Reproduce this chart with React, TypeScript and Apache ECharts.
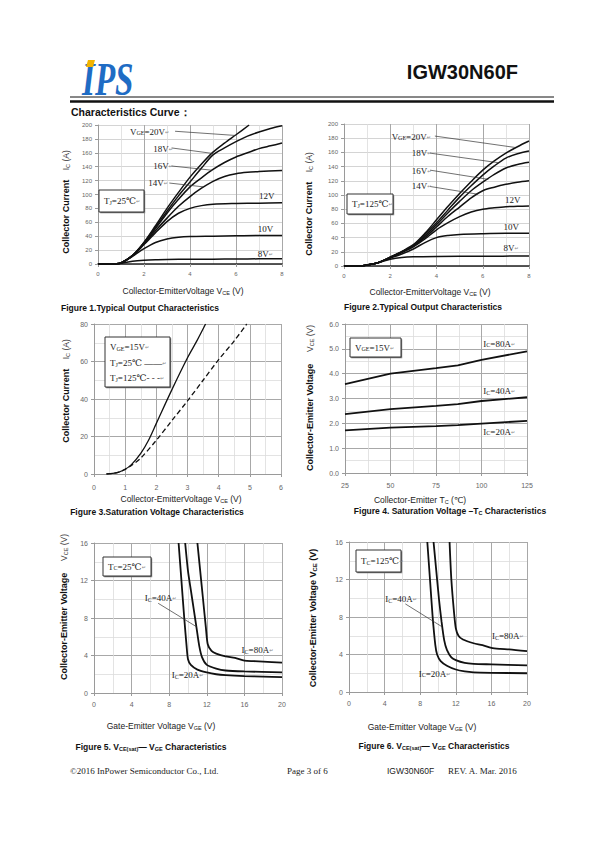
import React, { useEffect, useRef } from "react";
import * as echarts from "echarts";

// ---------- Figure 1: Typical output, Tj = 25°C  [VCE (V), IC (A)]
const f1XTicks = [0, 2, 4, 6, 8];
const f1YTicks = [0, 20, 40, 60, 80, 100, 120, 140, 160, 180, 200];
const f1_vge8 = [[0, 0], [0.8, 0], [1, 1], [1.5, 4], [2, 5.5], [2.5, 6.2], [3, 6.5], [4, 6.8], [5, 7], [6, 7.2], [7, 7.4], [8, 7.5]];
const f1_vge10 = [[0, 0], [0.8, 0.3], [1, 1.5], [1.5, 11], [2, 22], [2.5, 31], [3, 36], [3.5, 38.5], [4, 39.5], [5, 40], [6, 40.5], [7, 41], [8, 41]];
const f1_vge12 = [[0, 0], [0.8, 0.3], [1, 1.5], [1.5, 11.5], [2, 28], [2.5, 45], [3, 61], [3.5, 73], [4, 80], [4.5, 84], [5, 86], [6, 87], [7, 87.5], [8, 88]];
const f1_vge14 = [[0, 0], [0.8, 0.3], [1, 1.5], [1.5, 12], [2, 29], [2.5, 48], [3, 66], [3.5, 83], [4, 97], [4.5, 109], [5, 119], [5.5, 126], [6, 130], [6.5, 132], [7, 133], [8, 134.5]];
const f1_vge16 = [[0, 0], [0.8, 0.3], [1, 1.5], [1.5, 12], [2, 30], [2.5, 51], [3, 73], [3.5, 93], [4, 111], [4.5, 124], [5, 136], [5.5, 146], [6, 154], [6.5, 160], [7, 166], [7.5, 170], [8, 174]];
const f1_vge18 = [[0, 0], [0.8, 0.3], [1, 1.5], [1.5, 12], [2, 31], [2.5, 53], [3, 76], [3.5, 98], [4, 118], [4.5, 138], [5, 157], [5.5, 167], [6, 176], [6.5, 184], [7, 190], [7.5, 195], [8, 199]];
const f1_vge20 = [[0, 0], [0.8, 0.3], [1, 1.5], [1.5, 12.5], [2, 31], [2.5, 55], [3, 80], [3.5, 103], [4, 125], [4.5, 144], [5, 161], [5.5, 174], [6, 186], [6.57, 200]];

// ---------- Figure 2: Typical output, Tj = 125°C
const f2XTicks = [0, 2, 4, 6, 8];
const f2YTicks = [0, 20, 40, 60, 80, 100, 120, 140, 160, 180, 200];
const f2_vge8 = [[0, 0], [0.8, 0.5], [1, 1.5], [1.5, 5], [2, 9.5], [2.5, 12], [3, 13], [4, 13.5], [6, 13.8], [8, 14]];
const f2_vge10 = [[0, 0], [0.8, 0.5], [1, 1.5], [1.5, 5], [2, 11], [2.5, 17], [3, 24], [3.5, 33], [4, 40], [4.5, 43], [5, 44.5], [6, 45.5], [7, 46], [8, 46]];
const f2_vge12 = [[0, 0], [0.8, 0.5], [1, 1.5], [1.5, 5], [2, 12], [2.5, 19], [3, 27], [3.5, 38], [4, 51], [4.5, 61], [5, 69.5], [5.5, 76], [6, 80], [6.5, 82], [7, 83.5], [7.5, 84], [8, 84.5]];
const f2_vge14 = [[0, 0], [0.8, 0.5], [1, 1.5], [1.5, 5], [2, 12], [2.5, 19.5], [3, 28], [3.5, 40], [4, 55], [4.5, 70], [5, 83], [5.5, 96], [6, 106], [6.5, 111], [7, 115], [7.5, 118], [8, 120]];
const f2_vge16 = [[0, 0], [0.8, 0.5], [1, 1.5], [1.5, 5], [2, 12], [2.5, 20], [3, 28.5], [3.5, 42], [4, 58], [4.5, 75], [5, 91], [5.5, 106], [6, 118], [6.5, 129], [7, 138], [7.5, 143], [8, 146]];
const f2_vge18 = [[0, 0], [0.8, 0.5], [1, 1.5], [1.5, 5], [2, 12.5], [2.5, 20], [3, 29], [3.5, 44.5], [4, 61], [4.5, 79], [5, 97], [5.5, 113], [6, 128], [6.5, 141], [7, 152], [7.5, 158], [8, 162]];
const f2_vge20 = [[0, 0], [0.8, 0.5], [1, 1.5], [1.5, 5], [2, 12.5], [2.5, 20.5], [3, 30], [3.5, 46], [4, 65], [4.5, 84], [5, 102], [5.5, 119], [6, 135], [6.5, 148], [7, 159], [7.5, 168], [8, 176]];

// ---------- Figure 3: Saturation voltage, VGE = 15V
const f3XTicks = [0, 1, 2, 3, 4, 5, 6];
const f3YTicks = [0, 20, 40, 60, 80];
const f3_tj25 = [[0.4, 0], [0.6, 0.3], [0.8, 1], [1, 2.5], [1.2, 5], [1.5, 11], [1.75, 18], [2, 27], [2.5, 45], [3, 62], [3.3, 71], [3.58, 80]];
const f3_tj125 = [[0.4, 0], [0.6, 0.3], [0.8, 1], [1, 2.5], [1.2, 4.5], [1.5, 8.5], [2, 18], [2.5, 28.5], [3, 39], [3.5, 50], [4, 61], [4.5, 71], [4.9, 80]];

// ---------- Figure 4: Saturation voltage vs Tc
const f4XTicks = [25, 50, 75, 100, 125];
const f4YTicks = [0, 1, 2, 3, 4, 5, 6];
const f4_tc = [25, 50, 75, 87, 100, 125];
const f4_ic80 = [3.58, 4.0, 4.22, 4.33, 4.56, 4.9];
const f4_ic40 = [2.37, 2.57, 2.7, 2.77, 2.9, 3.05];
const f4_ic20 = [1.72, 1.83, 1.89, 1.93, 1.99, 2.1];

// ---------- Figure 5: VCE(sat) vs VGE, Tc = 25°C  [VGE, VCE]
const f5XTicks = [0, 4, 8, 12, 16, 20];
const f5YTicks = [0, 4, 8, 12, 16];
const f5_ic20 = [[9.0, 16], [9.3, 12], [9.6, 8], [9.85, 5], [10.0, 3.6], [10.3, 3.0], [11, 2.5], [12, 2.2], [13, 2.0], [14, 1.9], [16, 1.8], [18, 1.75], [20, 1.7]];
const f5_ic40 = [[9.7, 16], [10.0, 13], [10.3, 11], [10.6, 9], [10.9, 7], [11.2, 5], [11.5, 3.8], [12, 3.0], [13, 2.6], [14, 2.4], [16, 2.3], [20, 2.2]];
const f5_ic80 = [[11.0, 16], [11.3, 13], [11.6, 10], [11.9, 7], [12.1, 5.2], [12.5, 4.5], [13, 4.2], [14, 3.9], [15, 3.75], [16, 3.45], [17, 3.4], [18, 3.35], [20, 3.25]];

// ---------- Figure 6: VCE(sat) vs VGE, Tc = 125°C
const f6XTicks = [0, 4, 8, 12, 16, 20];
const f6YTicks = [0, 4, 8, 12, 16];
const f6_ic20 = [[8.8, 16], [9.1, 12], [9.4, 8], [9.7, 5], [9.9, 4], [10.3, 3.3], [11, 2.8], [12, 2.4], [13, 2.2], [14, 2.1], [16, 2.05], [20, 2.0]];
const f6_ic40 = [[9.5, 16], [9.8, 13], [10.1, 10], [10.4, 7.5], [10.7, 5.5], [11.0, 4.5], [11.5, 3.7], [12, 3.4], [13, 3.1], [14, 3.0], [16, 2.95], [20, 2.85]];
const f6_ic80 = [[11.3, 16], [11.5, 12], [11.8, 8.5], [12, 6.8], [12.3, 6], [12.8, 5.6], [14, 5.2], [15, 5.0], [16, 4.7], [17, 4.6], [18, 4.55], [20, 4.35]];

// ---------- layout
const SERIF = "'Liberation Serif','Times New Roman','DejaVu Serif',serif";
const SANS = "'Liberation Sans',Arial,'DejaVu Sans',sans-serif";

const GRIDS = [
  { left: 98, top: 125, width: 184, height: 139 },
  { left: 344, top: 124, width: 185, height: 142 },
  { left: 94, top: 324, width: 187, height: 150 },
  { left: 345, top: 324, width: 182, height: 149 },
  { left: 94, top: 543, width: 188, height: 150 },
  { left: 349, top: 542, width: 178, height: 150 },
];

const AXES = [
  { xt: f1XTicks, yt: f1YTicks, xMinor: 2, yMinor: 0, fs: 6, xm: 7, ym: 6, yMajor: "#d4d4d4", dec: 0, base: "#222", baseW: 1.6 },
  { xt: f2XTicks, yt: f2YTicks, xMinor: 2, yMinor: 0, fs: 6, xm: 7, ym: 6, yMajor: "#d4d4d4", dec: 0, base: "#222", baseW: 1.6 },
  { xt: f3XTicks, yt: f3YTicks, xMinor: 2, yMinor: 2, fs: 7, xm: 10, ym: 6, yMajor: "#a8a8a8", dec: 0, base: "#9a9a9a", baseW: 1 },
  { xt: f4XTicks, yt: f4YTicks, xMinor: 2, yMinor: 2, fs: 7, xm: 9, ym: 6, yMajor: "#a8a8a8", dec: 1, base: "#9a9a9a", baseW: 1 },
  { xt: f5XTicks, yt: f5YTicks, xMinor: 2, yMinor: 2, fs: 7, xm: 8, ym: 6, yMajor: "#a8a8a8", dec: 0, base: "#9a9a9a", baseW: 1 },
  { xt: f6XTicks, yt: f6YTicks, xMinor: 2, yMinor: 2, fs: 7, xm: 8, ym: 6, yMajor: "#a8a8a8", dec: 0, base: "#9a9a9a", baseW: 1 },
];

function makeAxis(ticks: number[], gi: number, minor: number, fs: number, margin: number, major: string, dec: number, lineColor: string, lineW: number) {
  return {
    type: "value",
    gridIndex: gi,
    min: ticks[0],
    max: ticks[ticks.length - 1],
    interval: ticks[1] - ticks[0],
    axisLine: { show: true, onZero: false, lineStyle: { color: lineColor, width: lineW } },
    axisTick: { show: true, length: 3, lineStyle: { color: "#9a9a9a" } },
    axisLabel: {
      fontSize: fs,
      color: "#666",
      fontFamily: SANS,
      margin,
      formatter: (v: number) => v.toFixed(dec),
    },
    splitLine: { show: true, lineStyle: { color: major, width: 1 } },
    minorTick: { show: false, splitNumber: minor || 5 },
    minorSplitLine: { show: minor > 0, lineStyle: { color: "#dcdcdc", width: 0.8 } },
  };
}

function line(gi: number, data: any[], width: number, extra: any = {}) {
  return {
    type: "line",
    xAxisIndex: gi,
    yAxisIndex: gi,
    data,
    symbol: "none",
    smooth: extra.smooth ?? 0.3,
    silent: true,
    z: 4,
    lineStyle: { color: "#111", width, type: extra.dash ? [5, 3] : "solid" },
  };
}

function baseOption() {
  return {
    animation: false,
    backgroundColor: "#fff",
    grid: GRIDS.map((g) => ({ ...g, containLabel: false })),
    xAxis: AXES.map((a, i) => makeAxis(a.xt, i, a.xMinor, a.fs, a.xm, "#a8a8a8", 0, a.base, a.baseW)),
    yAxis: AXES.map((a, i) => makeAxis(a.yt, i, a.yMinor, a.fs, a.ym, a.yMajor, a.dec, "#9a9a9a", 1)),
    series: [
      line(0, f1_vge8, 1.5), line(0, f1_vge10, 1.5), line(0, f1_vge12, 1.5), line(0, f1_vge14, 1.5),
      line(0, f1_vge16, 1.5), line(0, f1_vge18, 1.5), line(0, f1_vge20, 1.5),
      line(1, f2_vge8, 1.5), line(1, f2_vge10, 1.5), line(1, f2_vge12, 1.5), line(1, f2_vge14, 1.5),
      line(1, f2_vge16, 1.5), line(1, f2_vge18, 1.5), line(1, f2_vge20, 1.5),
      line(2, f3_tj25, 1.3),
      line(2, f3_tj125, 1.3, { dash: true }),
      line(3, f4_tc.map((t, i) => [t, f4_ic80[i]]), 1.8, { smooth: false }),
      line(3, f4_tc.map((t, i) => [t, f4_ic40[i]]), 1.8, { smooth: false }),
      line(3, f4_tc.map((t, i) => [t, f4_ic20[i]]), 1.8, { smooth: false }),
      line(4, f5_ic20, 1.8, { smooth: 0.25 }), line(4, f5_ic40, 1.8, { smooth: 0.25 }), line(4, f5_ic80, 1.8, { smooth: 0.25 }),
      line(5, f6_ic20, 1.8, { smooth: 0.25 }), line(5, f6_ic40, 1.8, { smooth: 0.25 }), line(5, f6_ic80, 1.8, { smooth: 0.25 }),
    ],
  };
}

// annotation texts placed at data coordinates of each panel
const ANN = [
  { g: 0, t: "{n|V}{s|GE}{n|=20V}{r|↵}", x: 1.39, y: 190 },
  { g: 0, t: "{n|18V}{r|↵}", x: 2.4, y: 166 },
  { g: 0, t: "{n|16V}{r|↵}", x: 2.4, y: 140.5 },
  { g: 0, t: "{n|14V}{r|↵}", x: 2.19, y: 116.5 },
  { g: 0, t: "{n|12V}", x: 7.0, y: 98 },
  { g: 0, t: "{n|10V}", x: 6.95, y: 51 },
  { g: 0, t: "{n|8V}{r|↵}", x: 6.95, y: 14.4 },
  { g: 1, t: "{n|V}{s|GE}{n|=20V}{r|↵}", x: 2.06, y: 182 },
  { g: 1, t: "{n|18V}{r|↵}", x: 2.93, y: 159 },
  { g: 1, t: "{n|16V}{r|↵}", x: 2.93, y: 134 },
  { g: 1, t: "{n|14V}{r|↵}", x: 2.93, y: 112 },
  { g: 1, t: "{n|12V}", x: 6.96, y: 93 },
  { g: 1, t: "{n|10V}", x: 6.9, y: 55 },
  { g: 1, t: "{n|8V}{r|↵}", x: 6.9, y: 25 },
  { g: 3, t: "{n|I}{s|C}{n|=80A}{r|↵}", x: 101, y: 5.2 },
  { g: 3, t: "{n|I}{s|C}{n|=40A}{r|↵}", x: 101, y: 3.3 },
  { g: 3, t: "{n|I}{s|C}{n|=20A}{r|↵}", x: 101, y: 1.67 },
  { g: 4, t: "{n|I}{s|C}{n|=40A}{r|↵}", x: 5.4, y: 10.1 },
  { g: 4, t: "{n|I}{s|C}{n|=80A}{r|↵}", x: 15.7, y: 4.57 },
  { g: 4, t: "{n|I}{s|C}{n|=20A}{r|↵}", x: 8.26, y: 1.9 },
  { g: 5, t: "{n|I}{s|C}{n|=40A}{r|↵}", x: 4.08, y: 9.9 },
  { g: 5, t: "{n|I}{s|C}{n|=80A}{r|↵}", x: 16.07, y: 5.96 },
  { g: 5, t: "{n|I}{s|C}{n|=20A}{r|↵}", x: 7.83, y: 1.96 },
];
const ARROWS = [
  { g: 0, a: [3.35, 191], b: [5.96, 185] },
  { g: 0, a: [3.2, 167], b: [5.0, 159] },
  { g: 0, a: [3.2, 141], b: [4.94, 135] },
  { g: 0, a: [3.1, 116.5], b: [4.58, 111] },
  { g: 1, a: [3.93, 183], b: [7.39, 167] },
  { g: 1, a: [3.72, 159], b: [6.67, 145.5] },
  { g: 1, a: [3.72, 135], b: [6.24, 122] },
  { g: 1, a: [3.72, 112], b: [5.8, 101] },
  { g: 4, a: [6.83, 9.57], b: [10.9, 7.07] },
  { g: 5, a: [6.33, 9.4], b: [10.45, 6.96] },
];
// boxed condition labels (page layout); lines: [text, offset from box top]
const BOXES = [
  { x: 99, y: 190, w: 45, h: 22, lines: [["{n|T}{s|J}{n|=25℃}{r|↵}", 11]] },
  { x: 347, y: 194, w: 46, h: 20, lines: [["{n|T}{s|J}{n|=125℃}{r|↵}", 10]] },
  {
    x: 105, y: 337, w: 65, h: 50,
    lines: [["{n|V}{s|GE}{n|=15V}{r|↵}", 10], ["{n|T}{s|J}{n|=25℃ ——}{r|↵}", 26], ["{n|T}{s|J}{n|=125℃- - -}{r|↵}", 41]],
  },
  { x: 350, y: 338, w: 51, h: 19, lines: [["{n|V}{s|GE}{n|=15V}{r|↵}", 9.5]] },
  { x: 103, y: 557, w: 48, h: 19, lines: [["{n|T}{s|C}{n|=25℃}{r|↵}", 9.5]] },
  { x: 356, y: 550, w: 45, h: 22, lines: [["{n|T}{s|C}{n|=125℃}{r|↵}", 11]] },
];

const annRich = {
  n: { fontFamily: SERIF, fontSize: 9, fill: "#222", color: "#222" },
  s: { fontFamily: SERIF, fontSize: 6, fill: "#222", color: "#222", verticalAlign: "bottom" },
  r: { fontFamily: "'DejaVu Sans'", fontSize: 5, fill: "#888", color: "#888" },
};
const sansRich = {
  t: { fontFamily: SANS, fontSize: 8.5, fill: "#222", color: "#222" },
  ts: { fontFamily: SANS, fontSize: 5.5, fill: "#222", color: "#222", verticalAlign: "bottom" },
  b: { fontFamily: SANS, fontSize: 9, fontWeight: "bold", fill: "#111", color: "#111" },
  bs: { fontFamily: SANS, fontSize: 6, fontWeight: "bold", fill: "#111", color: "#111", verticalAlign: "bottom" },
  n: { fontFamily: SANS, fontSize: 8.5, fill: "#333", color: "#333" },
  ns: { fontFamily: SANS, fontSize: 5.5, fill: "#333", color: "#333", verticalAlign: "bottom" },
  c: { fontFamily: SANS, fontSize: 8.5, fontWeight: "bold", fill: "#111", color: "#111" },
  cs: { fontFamily: SANS, fontSize: 5.5, fontWeight: "bold", fill: "#111", color: "#111", verticalAlign: "bottom" },
};

const XTITLES = [
  { x: 183, y: 291, t: "{t|Collector-EmitterVoltage V}{ts|CE}{t| (V)}" },
  { x: 430, y: 292, t: "{t|Collector-EmitterVoltage V}{ts|CE}{t| (V)}" },
  { x: 181, y: 499, t: "{t|Collector-EmitterVoltage V}{ts|CE}{t| (V)}" },
  { x: 420, y: 500, t: "{t|Collector-Emitter T}{ts|C}{t| (℃)}" },
  { x: 161, y: 726, t: "{t|Gate-Emitter Voltage V}{ts|GE}{t| (V)}" },
  { x: 422, y: 727, t: "{t|Gate-Emitter Voltage V}{ts|GE}{t| (V)}" },
];
const YTITLES = [
  { x: 66, y: 202, t: "{b|Collector Current}{n|    I}{ns|C}{n| (A)}" },
  { x: 309, y: 204, t: "{b|Collector Current}{n|    I}{ns|C}{n| (A)}" },
  { x: 66, y: 391, t: "{b|Collector Current}{n|    I}{ns|C}{n| (A)}" },
  { x: 310, y: 398, t: "{b|Collector-Emitter Voltage}{n|     V}{ns|CE}{n| (V)}" },
  { x: 64, y: 607, t: "{b|Collector-Emitter Voltage}{n|     V}{ns|CE}{n| (V)}" },
  { x: 313, y: 618, t: "{b|Collector-Emitter Voltage V}{bs|CE}{b| (V)}" },
];
const CAPTIONS = [
  { x: 61, y: 308, al: "left", t: "{c|Figure 1.Typical Output Characteristics}" },
  { x: 344, y: 307, al: "left", t: "{c|Figure 2.Typical Output Characteristics}" },
  { x: 157, y: 512, al: "center", t: "{c|Figure 3.Saturation Voltage Characteristics}" },
  { x: 450, y: 511, al: "center", t: "{c|Figure 4. Saturation Voltage –T}{cs|C}{c| Characteristics}" },
  { x: 151, y: 747, al: "center", t: "{c|Figure 5. V}{cs|CE(sat)}{c|— V}{cs|GE}{c| Characteristics}" },
  { x: 434, y: 746, al: "center", t: "{c|Figure 6. V}{cs|CE(sat)}{c|— V}{cs|GE}{c| Characteristics}" },
];

function textEl(x: number, y: number, text: string, rich: any, align = "left", rotation = 0, extra: any = {}) {
  return {
    type: "text",
    x,
    y,
    rotation,
    z: 10,
    style: {
      text,
      rich,
      align,
      textAlign: align,
      verticalAlign: "middle",
      textVerticalAlign: "middle",
      fill: "#222",
      ...extra,
    },
  };
}

function buildGraphics(chart: any) {
  const P = (g: number, x: number, y: number) => chart.convertToPixel({ gridIndex: g }, [x, y]);
  const els: any[] = [];

  // header
  els.push({
    type: "text", x: 82, y: 102, scaleX: 0.72,
    style: { text: "IPS", fontFamily: SERIF, fontSize: 46, fontWeight: "bold", fontStyle: "italic", fill: "#1f6cc4", align: "left", textAlign: "left", verticalAlign: "bottom", textVerticalAlign: "bottom" },
  });
  els.push({ type: "polygon", z: 2, shape: { points: [[88, 60], [95, 60], [93, 67], [86, 67]] }, style: { fill: "#f2b400" } });
  els.push(textEl(518, 72, "IGW30N60F", null, "right", 0, { fontFamily: SANS, fontSize: 20, fontWeight: "bold", fill: "#111" }));
  els.push({ type: "line", shape: { x1: 70, y1: 97, x2: 554, y2: 97 }, style: { stroke: "#111", lineWidth: 1 } });
  els.push({ type: "line", shape: { x1: 70, y1: 101.5, x2: 554, y2: 101.5 }, style: { stroke: "#111", lineWidth: 2.5 } });
  els.push(textEl(71, 112, "Characteristics Curve：", null, "left", 0, { fontFamily: SANS, fontSize: 10.5, fontWeight: "bold", fill: "#111" }));

  // footer
  els.push(textEl(70, 771, "©2016 InPower Semiconductor Co., Ltd.", null, "left", 0, { fontFamily: SERIF, fontSize: 9, fill: "#222" }));
  els.push(textEl(287, 771, "Page 3 of 6", null, "left", 0, { fontFamily: SERIF, fontSize: 9, fill: "#222" }));
  els.push(textEl(387, 771, "IGW30N60F", null, "left", 0, { fontFamily: SANS, fontSize: 8.5, fill: "#222" }));
  els.push(textEl(448, 771, "REV. A. Mar. 2016", null, "left", 0, { fontFamily: SERIF, fontSize: 9, fill: "#222" }));

  // axis titles & captions
  XTITLES.forEach((t) => els.push(textEl(t.x, t.y, t.t, sansRich, "center")));
  YTITLES.forEach((t) => els.push(textEl(t.x, t.y, t.t, sansRich, "center", Math.PI / 2)));
  CAPTIONS.forEach((t) => els.push(textEl(t.x, t.y, t.t, sansRich, t.al)));

  // arrows
  ARROWS.forEach((a) => {
    const p1 = P(a.g, a.a[0], a.a[1]);
    const p2 = P(a.g, a.b[0], a.b[1]);
    els.push({ type: "line", z: 9, shape: { x1: p1[0], y1: p1[1], x2: p2[0], y2: p2[1] }, style: { stroke: "#333", lineWidth: 0.7 } });
  });
  // annotations
  ANN.forEach((a) => {
    const p = P(a.g, a.x, a.y);
    els.push(textEl(p[0], p[1], a.t, annRich, "left"));
  });
  // boxes
  BOXES.forEach((b) => {
    els.push({ type: "rect", z: 8, shape: { x: b.x + 1.2, y: b.y + 1.2, width: b.w, height: b.h }, style: { fill: "#777" } });
    els.push({ type: "rect", z: 9, shape: { x: b.x, y: b.y, width: b.w, height: b.h }, style: { fill: "#fff", stroke: "#333", lineWidth: 1 } });
    b.lines.forEach((ln: any) => {
      els.push(textEl(b.x + 5, b.y + ln[1], ln[0], annRich, "left"));
    });
  });
  return els;
}

export default function App() {
  const ref = useRef<HTMLDivElement>(null);
  useEffect(() => {
    if (!ref.current) return;
    const chart = echarts.init(ref.current, null, { renderer: "svg", width: 595, height: 842 });
    chart.setOption(baseOption() as any);
    chart.setOption({ graphic: { elements: buildGraphics(chart) } } as any);
    return () => chart.dispose();
  }, []);
  return (
    <div
      ref={ref}
      style={{ position: "absolute", left: 0, top: 0, width: 595, height: 842, background: "#fff" }}
    />
  );
}
